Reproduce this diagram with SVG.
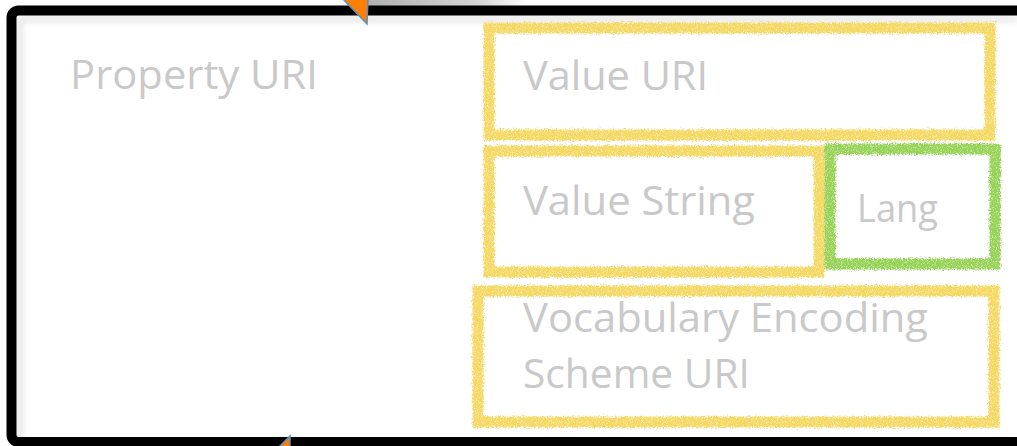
<svg xmlns="http://www.w3.org/2000/svg" width="1017" height="446" viewBox="0 0 1017 446">
<style>
.lbl{font-family:"Open Sans","Noto Sans","Liberation Sans",sans-serif;fill:#c9c9c9;font-size:40px}
.yb{fill:none;stroke:#f4d862;stroke-width:11;filter:url(#rough)}
.gb{fill:none;stroke:#96d255;stroke-width:11;filter:url(#rough)}
.tri{fill:#ff7f00;stroke:#5b8fc9;stroke-width:1.5}
</style>
<defs>
<filter id="rough" x="-5%" y="-10%" width="110%" height="120%">
<feTurbulence type="fractalNoise" baseFrequency="0.7" numOctaves="3" seed="3" result="n"/>
<feDisplacementMap in="SourceGraphic" in2="n" scale="6" xChannelSelector="R" yChannelSelector="G" result="d"/>
<feTurbulence type="fractalNoise" baseFrequency="1.2" numOctaves="1" seed="9" result="n2"/>
<feColorMatrix in="n2" type="matrix" values="0 0 0 0 0  0 0 0 0 0  0 0 0 0 0  0 0 0 -2.2 2.1" result="a"/>
<feComposite in="d" in2="a" operator="in"/>
</filter>
<filter id="blur" x="-10%" y="-10%" width="120%" height="120%"><feGaussianBlur stdDeviation="3"/></filter>
<linearGradient id="topsh" x1="0" y1="0" x2="1" y2="0">
<stop offset="0" stop-color="#b0b0b0"/><stop offset="0.7" stop-color="#d6d6d6"/><stop offset="1" stop-color="#ffffff"/>
</linearGradient>
</defs>
<rect width="1017" height="446" fill="#ffffff"/>
<g id="frame">
<rect x="367" y="0" width="160" height="7" fill="url(#topsh)"/>
<path d="M20 440 L20 19 L1017 19" fill="none" stroke="#c4c4c4" stroke-width="4" filter="url(#blur)" opacity="0.6"/>
<path d="M1012 15 L1012 437" stroke="#d6d6d6" stroke-width="6" filter="url(#blur)" opacity="0.7"/>
<rect x="11.5" y="10.5" width="1030" height="431.5" rx="7" fill="none" stroke="#000000" stroke-width="10"/>
<polygon class="tri" points="343,-1 367,24 368,-1"/>
<polygon class="tri" points="279,447 290,436 290,447"/>
</g>
<g id="property-uri">
<text class="lbl" x="70" y="89" textLength="248" lengthAdjust="spacingAndGlyphs">Property URI</text>
</g>
<g id="value-uri">
<rect class="yb" x="489" y="28" width="501" height="107"/>
<text class="lbl" x="523" y="90" textLength="185" lengthAdjust="spacingAndGlyphs">Value URI</text>
</g>
<g id="value-string">
<rect class="yb" x="489" y="151" width="330" height="121"/>
<text class="lbl" x="523" y="215" textLength="232" lengthAdjust="spacingAndGlyphs">Value String</text>
</g>
<g id="lang">
<rect class="gb" x="830" y="149" width="165" height="115"/>
<text class="lbl" x="857" y="222" style="font-size:38px" textLength="81" lengthAdjust="spacingAndGlyphs">Lang</text>
</g>
<g id="vocabulary-encoding-scheme-uri">
<rect class="yb" x="478" y="291" width="516" height="131"/>
<text class="lbl" x="523" y="332" textLength="405" lengthAdjust="spacingAndGlyphs">Vocabulary Encoding</text>
<text class="lbl" x="523" y="388" textLength="227" lengthAdjust="spacingAndGlyphs">Scheme URI</text>
</g>
<g id="connectors"/>
</svg>
